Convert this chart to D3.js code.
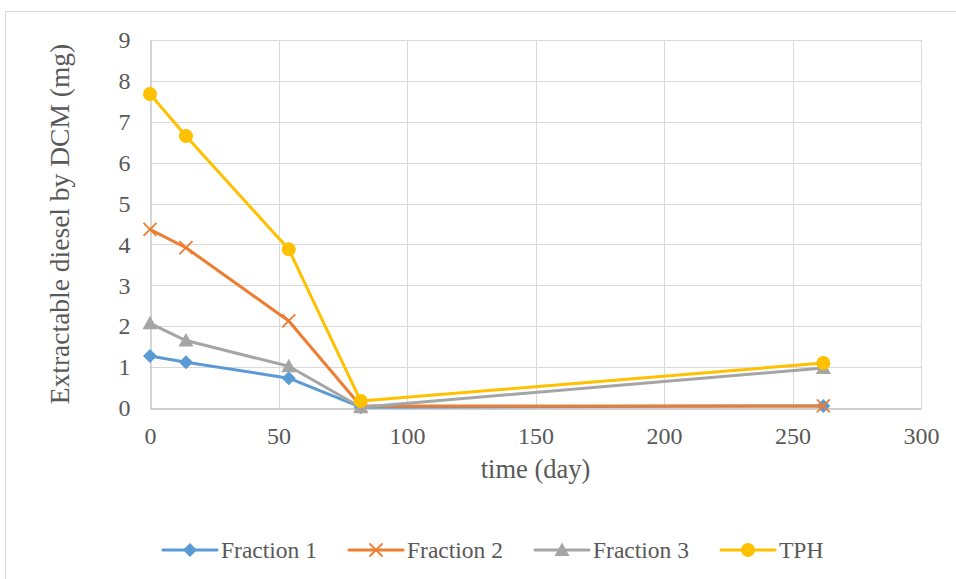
<!DOCTYPE html>
<html lang="en">
<head>
<meta charset="utf-8">
<title>Extractable diesel</title>
<script src="https://cdn.jsdelivr.net/npm/d3@7"></script>
<style>
  body { margin: 0; background: #fff; }
  svg text { font-family: "Liberation Serif", "Times New Roman", Times, serif !important; }
</style>
</head>
<body>
<div id="chart"></div>
<script>
// data
var days = [0, 14, 54, 82, 262]
var fraction1 = [1.27, 1.12, 0.73, 0.02, 0.05]
var fraction2 = [4.37, 3.92, 2.13, 0.05, 0.05]
var fraction3 = [2.07, 1.65, 1.02, 0.02, 0.98]
var tph = [7.68, 6.65, 3.88, 0.17, 1.10]
var seriesNames = ["Fraction 1", "Fraction 2", "Fraction 3", "TPH"]
var xTicks = [0, 50, 100, 150, 200, 250, 300]
var yTicks = [0, 1, 2, 3, 4, 5, 6, 7, 8, 9]

var colors = ["#5B9BD5", "#ED7D31", "#A5A5A5", "#FFC000"]
var shapes = ["diamond", "cross", "triangle", "circle"]
var allValues = [fraction1, fraction2, fraction3, tph]

var w = 956, h = 579
var plotLeft = 150, plotRight = 921, plotTop = 40, plotBottom = 408

var svg = d3.select("#chart").append("svg")
  .attr("width", w).attr("height", h)

// chart area border (runs off the picture right and bottom)
svg.append("rect")
  .attr("x", 5.5).attr("y", 11.5)
  .attr("width", 1200).attr("height", 1200)
  .attr("fill", "none").attr("stroke", "#D9D9D9")

var x = d3.scaleLinear().domain([0, 300]).range([plotLeft, plotRight])
var y = d3.scaleLinear().domain([0, 9]).range([plotBottom, plotTop])

// gridlines
svg.append("g").selectAll("line").data(yTicks.slice(1)).enter().append("line")
  .attr("x1", plotLeft).attr("x2", plotRight)
  .attr("y1", function(d) { return Math.round(y(d)) + 0.5 })
  .attr("y2", function(d) { return Math.round(y(d)) + 0.5 })
  .attr("stroke", "#D9D9D9")
svg.append("g").selectAll("line").data(xTicks.slice(1)).enter().append("line")
  .attr("y1", plotTop).attr("y2", plotBottom)
  .attr("x1", function(d) { return Math.round(x(d)) + 0.5 })
  .attr("x2", function(d) { return Math.round(x(d)) + 0.5 })
  .attr("stroke", "#D9D9D9")

// axes
var xAxis = d3.axisBottom(x).tickValues(xTicks).tickSize(0).tickPadding(18)
var yAxis = d3.axisLeft(y).tickValues(yTicks).tickSize(0).tickPadding(20)

var gx = svg.append("g").attr("transform", "translate(0," + (plotBottom + 0.5) + ")").call(xAxis)
var gy = svg.append("g").attr("transform", "translate(" + (plotLeft + 0.5) + ",0)").call(yAxis)
;[gx, gy].forEach(function(g) {
  g.attr("font-family", null).attr("font-size", null)
  g.select(".domain").attr("stroke", "#BFBFBF").attr("stroke-width", 1.3)
  g.selectAll("text").attr("fill", "#595959").style("font-size", "24px")
})

// axis titles
svg.append("text")
  .attr("x", (plotLeft + plotRight) / 2).attr("y", 478)
  .attr("text-anchor", "middle").style("font-size", "26.5px").attr("fill", "#595959")
  .text("time (day)")
svg.append("text")
  .attr("transform", "translate(69," + ((plotTop + plotBottom) / 2) + ") rotate(-90)")
  .attr("text-anchor", "middle").style("font-size", "27.5px").attr("fill", "#595959")
  .text("Extractable diesel by DCM (mg)")

function drawMarker(g, shape, color, cx, cy) {
  if (shape == "circle") {
    g.append("circle").attr("cx", cx).attr("cy", cy).attr("r", 7).attr("fill", color)
  } else if (shape == "diamond") {
    g.append("path").attr("d", "M" + cx + "," + (cy - 7) + "L" + (cx + 7) + "," + cy +
      "L" + cx + "," + (cy + 7) + "L" + (cx - 7) + "," + cy + "Z").attr("fill", color)
  } else if (shape == "triangle") {
    g.append("path").attr("d", "M" + cx + "," + (cy - 7.5) + "L" + (cx + 7.5) + "," + (cy + 6) +
      "L" + (cx - 7.5) + "," + (cy + 6) + "Z").attr("fill", color)
  } else {
    g.append("path").attr("d", "M" + (cx - 6.5) + "," + (cy - 6.5) + "L" + (cx + 6.5) + "," + (cy + 6.5) +
      "M" + (cx + 6.5) + "," + (cy - 6.5) + "L" + (cx - 6.5) + "," + (cy + 6.5))
      .attr("stroke", color).attr("stroke-width", 1.8).attr("fill", "none")
  }
}

var line = d3.line()
  .x(function(d) { return x(d[0]) })
  .y(function(d) { return y(d[1]) })

allValues.forEach(function(vals, i) {
  var pts = days.map(function(d, j) { return [d, vals[j]] })
  var g = svg.append("g")
  g.append("path").datum(pts).attr("d", line)
    .attr("fill", "none").attr("stroke", colors[i]).attr("stroke-width", 3)
    .attr("stroke-linejoin", "round").attr("stroke-linecap", "round")
  pts.forEach(function(p) { drawMarker(g, shapes[i], colors[i], x(p[0]), y(p[1])) })
})

// legend
var legendX = [163, 349, 535, 721]
seriesNames.forEach(function(name, i) {
  var g = svg.append("g")
  var lx = legendX[i], ly = 550
  g.append("line").attr("x1", lx).attr("x2", lx + 54).attr("y1", ly).attr("y2", ly)
    .attr("stroke", colors[i]).attr("stroke-width", 3).attr("stroke-linecap", "round")
  drawMarker(g, shapes[i], colors[i], lx + 27, ly)
  g.append("text").attr("x", lx + 58).attr("y", ly + 8)
    .style("font-size", "23.5px").attr("fill", "#595959").text(name)
})
</script>
</body>
</html>
